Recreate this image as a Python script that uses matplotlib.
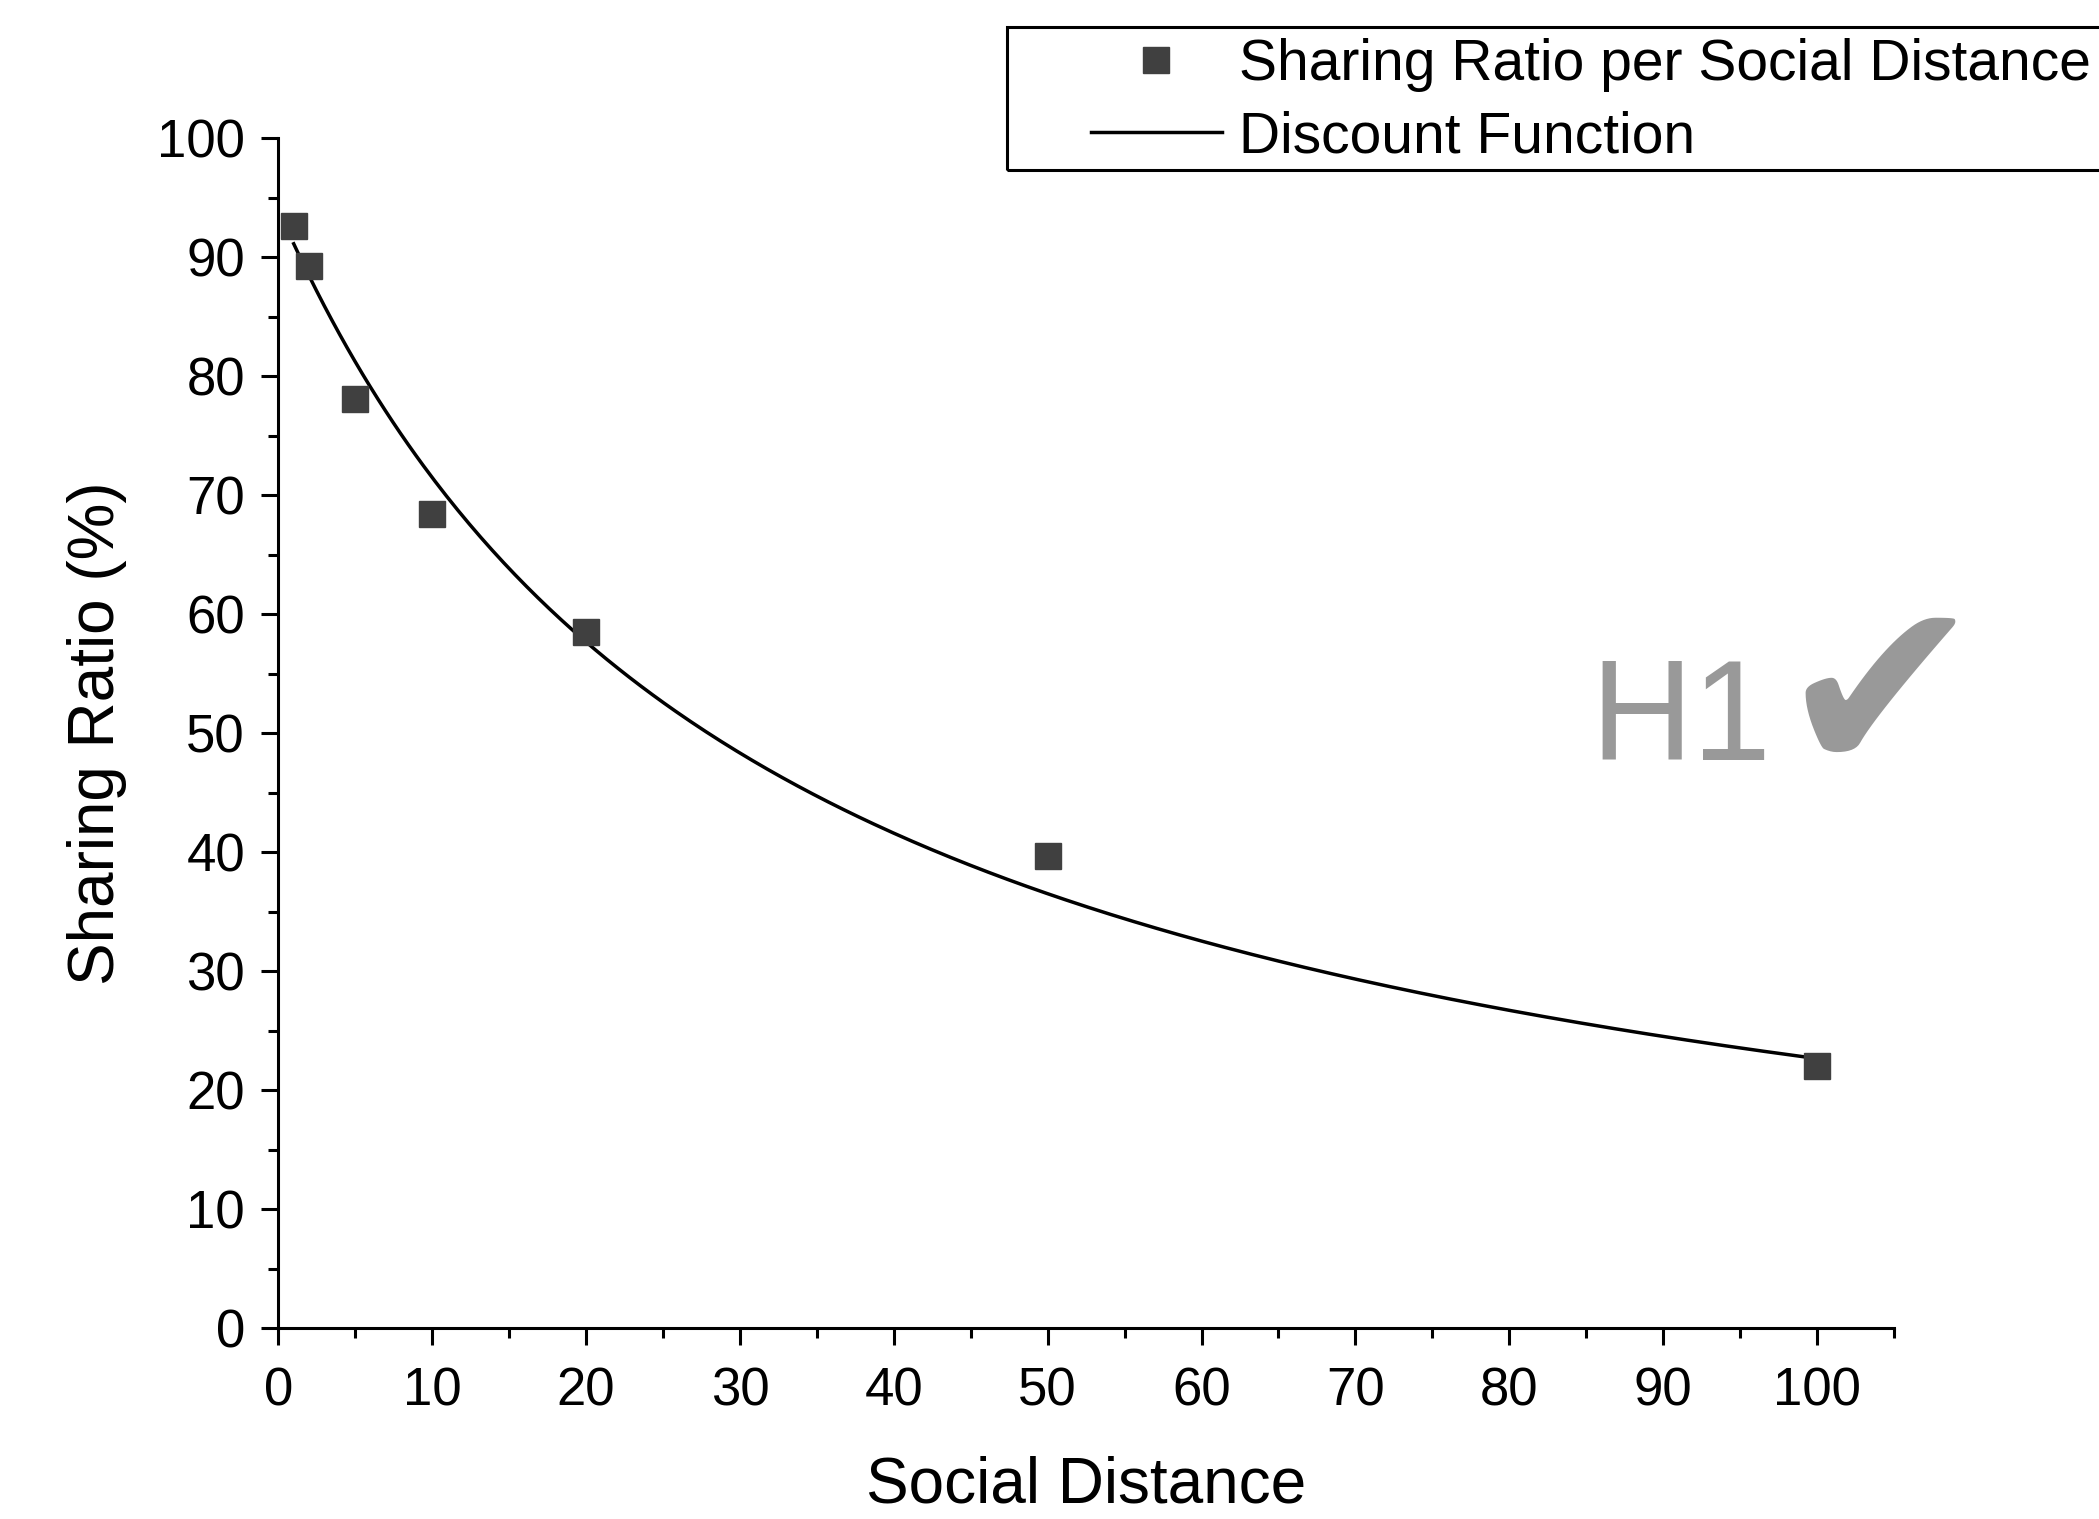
import numpy as np
import matplotlib
matplotlib.use("Agg")
import matplotlib.pyplot as plt
from matplotlib.ticker import MultipleLocator
from matplotlib.patches import Rectangle

plt.rcParams['font.family'] = ['Liberation Sans', 'DejaVu Sans']

social_distance = [1, 2, 5, 10, 20, 50, 100]
sharing_ratio = [92.6, 89.3, 78.1, 68.4, 58.5, 39.7, 22.0]

# hyperbolic discount function parameters V = A / (1 + k*N)
disc_A = 94.0
disc_k = 0.0315

W, H = 2099, 1519
fig = plt.figure(figsize=(W / 100, H / 100), dpi=100)
ax = fig.add_axes([0.1326, 0.1257, 0.9023 - 0.1326, 0.909 - 0.1257])

xs = np.linspace(1, 100, 400)
ax.plot(xs, disc_A / (1 + disc_k * xs), color='black', lw=2.5, label='Discount Function', zorder=2)
ax.plot(social_distance, sharing_ratio, ls='none', marker='s', ms=19, color='#404040',
        label='Sharing Ratio per Social Distance', zorder=3, clip_on=False)

ax.set_xlim(0, 105)
ax.set_ylim(0, 100)
for s in ['top', 'right']:
    ax.spines[s].set_visible(False)
for s in ['left', 'bottom']:
    ax.spines[s].set_linewidth(2.2)
ax.yaxis.set_major_locator(MultipleLocator(10))
ax.yaxis.set_minor_locator(MultipleLocator(5))
ax.set_xticks([0, 10, 20, 30, 40, 50, 60, 70, 80, 90, 100])
ax.set_xticks(np.arange(5, 106, 10), minor=True)
ax.tick_params(which='major', length=12, width=2.2, labelsize=38)
ax.tick_params(axis='x', which='major', pad=16)
ax.tick_params(axis='y', which='major', pad=12)
ax.tick_params(which='minor', length=7, width=2.2)

ax.set_xlabel('Social Distance', fontsize=46, labelpad=28)
ax.set_ylabel('Sharing Ratio (%)', fontsize=46, labelpad=22)

# legend frame (extends beyond right edge as in the reference)
fig.patches.append(Rectangle((1007 / W, 1 - 170 / H), 1.2, (170 - 27) / H,
                             transform=fig.transFigure, fill=False, edgecolor='black',
                             linewidth=2.2, zorder=5))
handles, labels = ax.get_legend_handles_labels()
leg = fig.legend(handles[::-1], labels[::-1], loc='upper left',
                 bbox_to_anchor=(1091 / W, 1 - 38 / H), fontsize=41,
                 frameon=False, handlelength=2.3, handletextpad=0.3, borderpad=0.0,
                 labelspacing=0.32, borderaxespad=0)

fig.text(1590 / W, 1 - 760 / H, 'H1', fontsize=102, color='#999999', ha='left', va='baseline')
fig.text(1776 / W, 1 - 774 / H, '\u2714', fontsize=178, color='#999999', ha='left', va='baseline',
         family='DejaVu Sans')

fig.savefig('out.png', dpi=100)
